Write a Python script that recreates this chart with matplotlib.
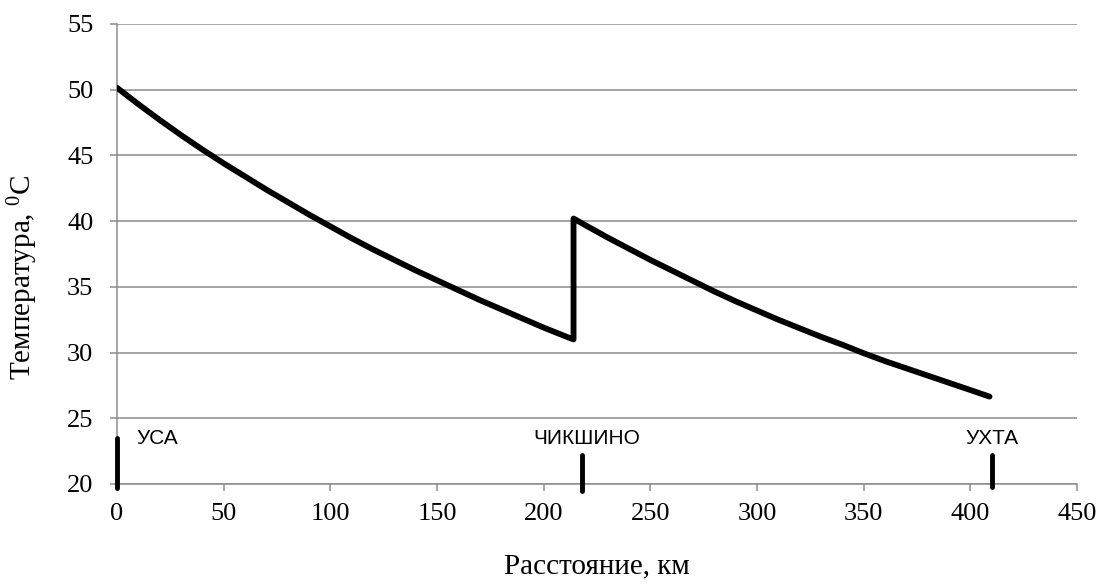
import matplotlib
matplotlib.use("Agg")
import matplotlib.pyplot as plt

# Segment 1: УСА -> ЧИКШИНО
dist_1 = [0, 10, 20, 30, 40, 50, 60, 70, 80, 90, 100, 110, 120, 130, 140, 150,
          160, 170, 180, 190, 200, 210, 214]
temp_1 = [50.15, 48.9, 47.7, 46.55, 45.45, 44.4, 43.4, 42.4, 41.45, 40.5, 39.6, 38.7,
          37.85, 37.05, 36.25, 35.5, 34.75, 34.0, 33.3, 32.6, 31.9, 31.25, 31.0]
# Segment 2: ЧИКШИНО -> УХТА
dist_2 = [214, 220, 230, 240, 250, 260, 270, 280, 290, 300, 310, 320, 330, 340,
          350, 360, 370, 380, 390, 400, 409]
temp_2 = [40.2, 39.65, 38.75, 37.9, 37.05, 36.25, 35.45, 34.65, 33.9, 33.2, 32.5, 31.85,
          31.2, 30.6, 29.95, 29.35, 28.8, 28.25, 27.7, 27.15, 26.65]

stations = ["УСА", "ЧИКШИНО", "УХТА"]
station_km = [0, 218, 410]
station_label_x = [9, 220, 410]

x_ticks = [0, 50, 100, 150, 200, 250, 300, 350, 400, 450]
y_ticks = [20, 25, 30, 35, 40, 45, 50, 55]

plt.rcParams['mathtext.fontset'] = 'custom'
plt.rcParams['mathtext.rm'] = 'Liberation Serif'

fig = plt.figure(figsize=(11.02, 5.88), dpi=100)
ax = fig.add_axes([117/1102, 1-484/588, 960/1102, 460/588])

dist = dist_1 + dist_2
temp = temp_1 + temp_2
ax.plot(dist, temp, color='black', lw=4.2, solid_joinstyle='round',
        solid_capstyle='round', zorder=3)

ax.set_xlim(0, 450)
ax.set_ylim(20, 55)
ax.set_xticks(x_ticks)
ax.set_yticks(y_ticks)
ax.set_xticklabels([str(v) for v in x_ticks], family='Liberation Serif', fontsize=19)
ax.set_yticklabels([str(v) for v in y_ticks], family='Liberation Serif', fontsize=19)

ax.grid(axis='y', color='#8c8c8c', lw=1.1)
ax.set_axisbelow(True)
for s in ['top', 'right']:
    ax.spines[s].set_visible(False)
for s in ['left', 'bottom']:
    ax.spines[s].set_color('#8c8c8c')
    ax.spines[s].set_linewidth(1.1)
ax.tick_params(axis='both', color='#8c8c8c', length=5, width=1.1, direction='out')
ax.tick_params(axis='y', pad=12)
ax.tick_params(axis='x', pad=9)

ax.set_xlabel("Расстояние, км", family='Liberation Serif', fontsize=21, labelpad=20)
ax.set_ylabel("Температура, $\\mathregular{^0}$С", family='Liberation Serif', fontsize=21)
ax.yaxis.set_label_coords(-0.08, 0.45)

marker_top = [23.5, 22.2, 22.2]
marker_bot = [19.7, 19.5, 19.8]
for name, km, lx, t, b in zip(stations, station_km, station_label_x, marker_top, marker_bot):
    ax.plot([km, km], [b, t], color='black', lw=3.5, solid_capstyle='round',
            clip_on=False, zorder=4)
    ax.text(lx, 23.5, name, family='Liberation Sans', fontsize=15,
            ha='left' if name == "УСА" else 'center', va='center')

fig.savefig("out.png", dpi=100, facecolor='white')
